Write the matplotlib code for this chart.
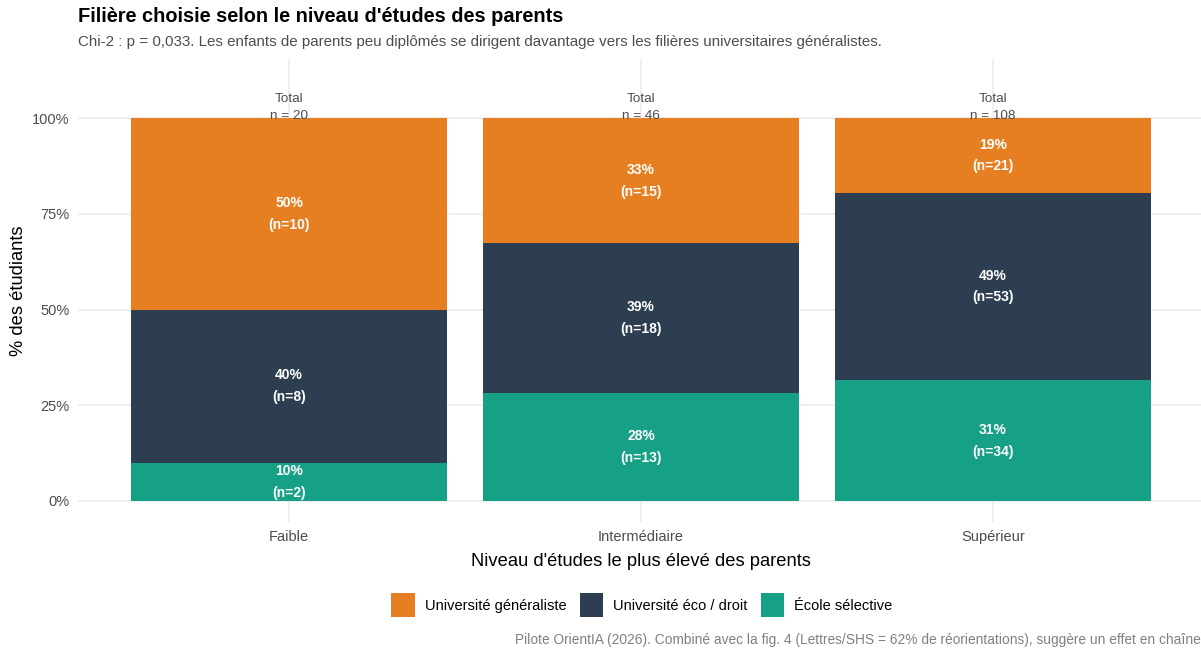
import numpy as np
import matplotlib.pyplot as plt

plt.rcParams['font.family'] = ['Liberation Sans', 'DejaVu Sans']

# Data
niveaux = ['Faible', 'Intermédiaire', 'Supérieur']
filieres = ['École sélective', 'Université éco / droit', 'Université généraliste']
ecole = [2, 13, 34]
eco_droit = [8, 18, 53]
generaliste = [10, 15, 21]
colors = {'Université généraliste': '#E67E22',
          'Université éco / droit': '#2C3E50',
          'École sélective': '#16A085'}

counts = np.array([ecole, eco_droit, generaliste], dtype=float)
totals = counts.sum(axis=0)
props = counts / totals

fig = plt.figure(figsize=(12.01, 6.53), dpi=100)
W, H = 1201, 653
ax = fig.add_axes([78 / W, (653 - 522) / H, (1204 - 78) / W, (522 - 59) / H])

x = np.arange(len(niveaux))
bottom = np.zeros(len(niveaux))
handles = {}
for i, f in enumerate(filieres):
    b = ax.bar(x, props[i], bottom=bottom, width=0.9, color=colors[f], zorder=2)
    handles[f] = b
    for j in range(len(niveaux)):
        ax.text(x[j], bottom[j] + props[i][j] / 2,
                f"{props[i][j] * 100:.0f}%\n(n={int(counts[i][j])})",
                ha='center', va='center', color='white', fontsize=10,
                fontweight='bold', linespacing=1.7, zorder=3)
    bottom += props[i]

for j in range(len(niveaux)):
    ax.text(x[j], 1.029, f"Total\nn = {int(totals[j])}", ha='center', va='center',
            color='#4D4D4D', fontsize=9.7, linespacing=1.6, zorder=4)

ax.set_xlim(-0.6, 2.6)
ax.set_ylim(-0.055, 1.155)
ax.set_yticks([0, 0.25, 0.5, 0.75, 1.0])
ax.set_yticklabels(['0%', '25%', '50%', '75%', '100%'])
ax.set_xticks(x)
ax.set_xticklabels(niveaux)
ax.tick_params(length=0, labelsize=10.5, labelcolor='#4D4D4D', pad=6)
ax.grid(True, color='#EBEBEB', linewidth=1.1, zorder=0)
ax.set_axisbelow(True)
for s in ax.spines.values():
    s.set_visible(False)

ax.set_ylabel('% des étudiants', fontsize=13.2, labelpad=4)
ax.set_xlabel("Niveau d'études le plus élevé des parents", fontsize=13.2, labelpad=6)

fig.text(78 / W, 1 - 17 / H, "Filière choisie selon le niveau d'études des parents",
         fontsize=14.4, fontweight='bold', va='center', ha='left')
fig.text(78 / W, 1 - 42 / H,
         "Chi-2 : p = 0,033. Les enfants de parents peu diplômés se dirigent davantage vers les filières universitaires généralistes.",
         fontsize=10.9, color='#4D4D4D', va='center', ha='left')
fig.text(1201 / W, 1 - 640 / H,
         "Pilote OrientIA (2026). Combiné avec la fig. 4 (Lettres/SHS = 62% de réorientations), suggère un effet en chaîne",
         fontsize=9.9, color='#808080', va='center', ha='right')

order = ['Université généraliste', 'Université éco / droit', 'École sélective']
fig.legend([handles[f] for f in order], order, loc='center',
           bbox_to_anchor=(642 / W, 1 - 605 / H), ncol=3, frameon=False,
           fontsize=10.5, handlelength=1.6, handleheight=2.1, handletextpad=0.7,
           columnspacing=0.9)

fig.savefig('out.png', dpi=100)
